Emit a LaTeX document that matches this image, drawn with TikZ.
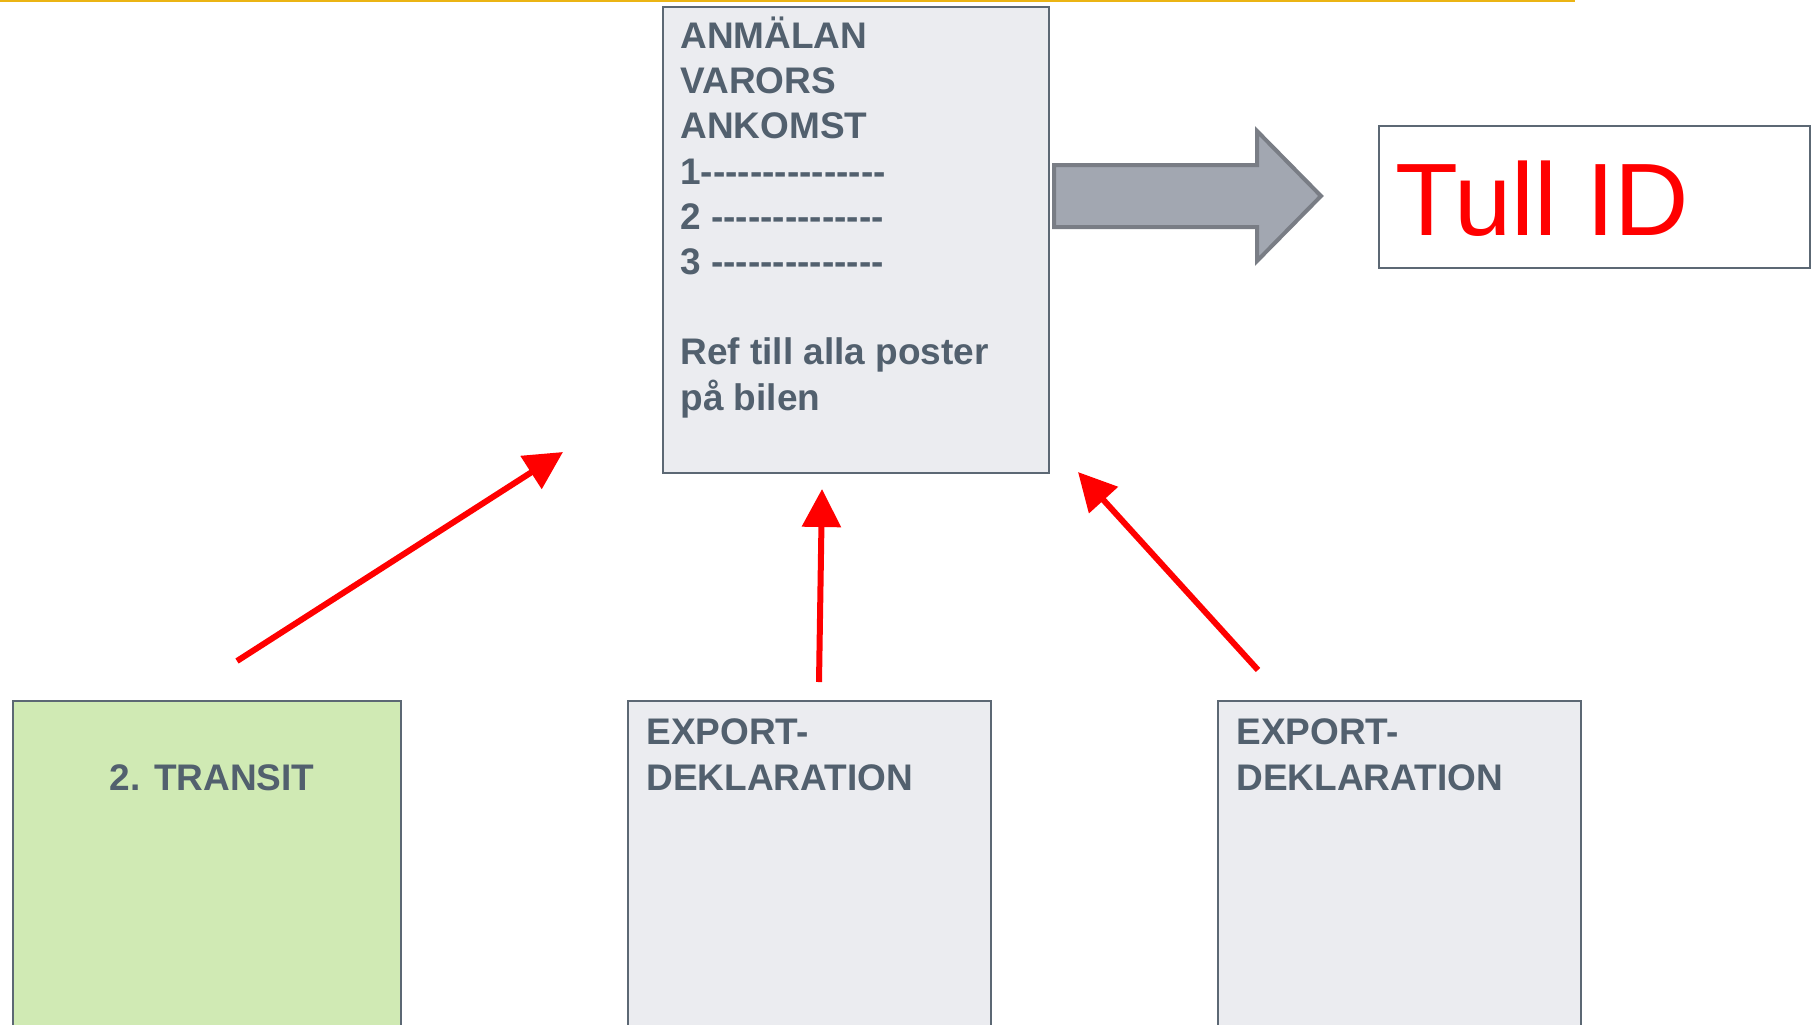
\documentclass[tikz,border=0pt]{standalone}
\usepackage{fontspec}
\setmainfont{Liberation Sans}
\usetikzlibrary{arrows.meta,positioning}
\definecolor{slate}{RGB}{82, 96, 110}
\definecolor{frame}{RGB}{92, 104, 116}
\definecolor{cloud}{RGB}{235, 236, 240}
\definecolor{pistachio}{RGB}{208, 234, 180}
\definecolor{pewter}{RGB}{162, 167, 177}
\definecolor{gunmetal}{RGB}{121, 125, 133}
\definecolor{sunflower}{RGB}{235, 180, 20}
\definecolor{tullred}{RGB}{255, 0, 0}
\newcommand{\dashrun}[1]{\foreach \k in {1,...,#1}{-\kern0pt}}
\tikzset{
  form/.style={draw=frame, line width=1pt, fill=cloud, rectangle, anchor=north west, inner sep=0pt},
  formtext/.style={text=slate, font=\fontsize{18.5pt}{22.6pt}\selectfont\bfseries, align=left, inner sep=0pt},
  feed/.style={draw=tullred, line width=3pt, -{Triangle[length=19pt,width=19pt]}}
}
\begin{document}
\begin{tikzpicture}[x=1pt, y=-1pt]
  \useasboundingbox (0,0) rectangle (909,512);
  \clip (0,0) rectangle (909,512);
  \draw[sunflower, line width=1pt] (0,0.5) -- (787.5,0.5);
  % anmalan form (base = last line)
  \node[form, minimum width=193pt, minimum height=233pt] (anm) at (331,3) {};
  \node[formtext, anchor=base west] (anmtext) at (340,205)
       {ANMÄLAN\\VARORS\\ANKOMST\\1\dashrun{15}\\2 \dashrun{14}\\3 \dashrun{14}\\[22.6pt]Ref till alla poster\\på bilen};
  % block arrow to tull id
  \draw[gunmetal, fill=pewter, line width=2pt] (527,82.5) -- (628.5,82.5) -- (628.5,65.5) -- (660.5,98)
       -- (628.5,130.5) -- (628.5,113.5) -- (527,113.5) -- cycle;
  \node[form, fill=white, minimum width=215.5pt, minimum height=71pt] (tull) at (689,62.5) {};
  \node[text=tullred, font=\fontsize{51.5pt}{60pt}\selectfont, anchor=base west, inner sep=0pt] (tulltext) at (697.5,117.5) {Tull ID};
  % declarations below
  \node[form, fill=pistachio, minimum width=194pt, minimum height=200pt] (transit) at (6,350) {};
  \node[formtext, anchor=base] (transittext) at (106,395) {2. TRANSIT};
  \node[form, minimum width=181.5pt, minimum height=200pt] (exportA) at (313.5,350) {};
  \node[formtext, anchor=base west] (exportAtext) at (323,395) {EXPORT-\\DEKLARATION};
  \node[form, minimum width=181.5pt, minimum height=200pt] (exportB) at (608.5,350) {};
  \node[formtext, anchor=base west] (exportBtext) at (618,395) {EXPORT-\\DEKLARATION};
  % red arrows
  \coordinate (transitout) at (118.5,330.5);
  \coordinate (anminA) at (281.5,226);
  \coordinate (exportAout) at (409.5,341);
  \coordinate (anminB) at (411,244.5);
  \coordinate (exportBout) at (629,335);
  \coordinate (anminC) at (539,236);
  \draw[feed] (transitout) -- (anminA);
  \draw[feed] (exportAout) -- (anminB);
  \draw[feed] (exportBout) -- (anminC);
\end{tikzpicture}
\end{document}
